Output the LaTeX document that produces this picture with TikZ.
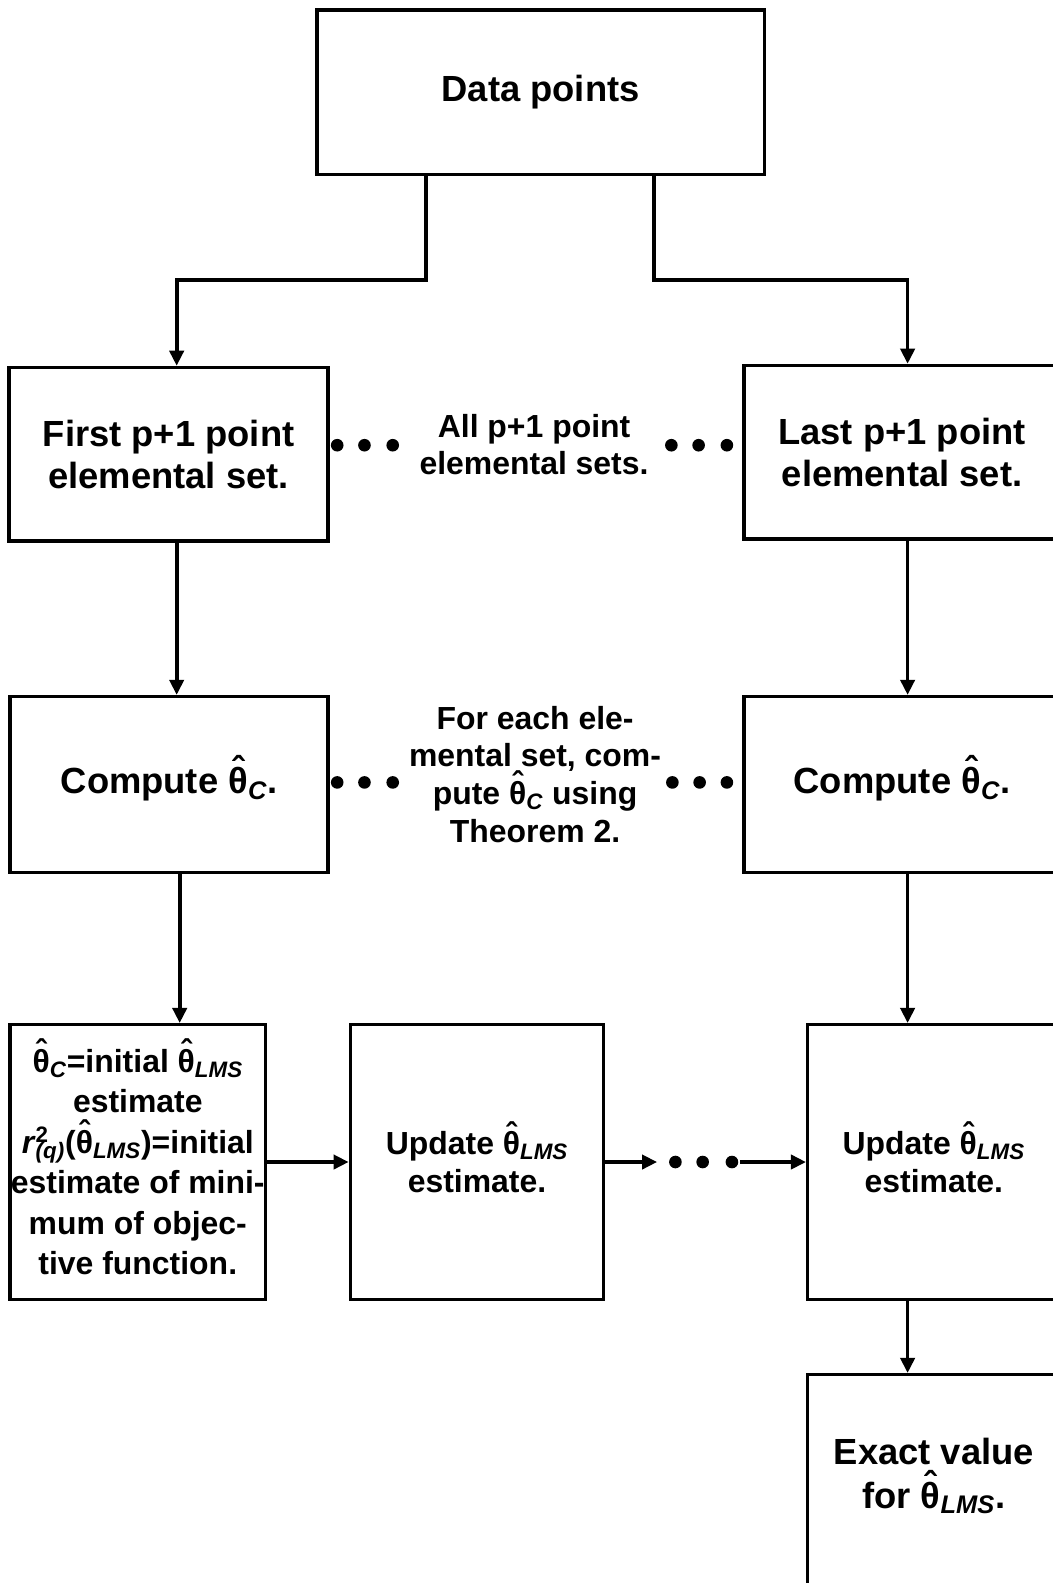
\documentclass[tikz,border=0pt]{standalone}
\usepackage{fontspec}
\setmainfont{Liberation Sans}
\usetikzlibrary{arrows.meta}
\newcommand{\hth}{\ooalign{θ\cr\hidewidth\raisebox{0.3em}{ˆ}\hidewidth\cr}}
\newcommand{\sbs}[1]{\textsubscript{\itshape #1}}
\tikzset{
  flowbox/.style={draw, line width=1.9pt, inner sep=0pt, align=center},
  bigtxt/.style={font=\bfseries\fontsize{20.5}{24}\selectfont},
  smalltxt/.style={font=\bfseries\fontsize{18}{21}\selectfont},
  flowdot/.style={circle, fill, inner sep=0pt, minimum size=0.25cm},
}
\begin{document}
\begin{tikzpicture}[x=0.02cm, y=-0.02cm, line width=2.1pt, >={Triangle[length=0.3cm,width=0.28cm]}]
        \useasboundingbox (0,0) rectangle (1043,1568);
        \clip (0,0) rectangle (1043,1568);
        \node[flowbox, bigtxt, minimum width=8.86cm, minimum height=3.26cm] (data) at (535.5,91.5) {Data points};
        \node[flowbox, bigtxt, minimum width=6.32cm, minimum height=3.44cm] (first) at (167,450) {First p+1 point\\elemental set.};
        \node[flowbox, bigtxt, minimum width=6.26cm, minimum height=3.44cm] (last) at (893.5,448) {Last p+1 point\\elemental set.};
        \node[smalltxt, align=center] (allsets) at (529,440) {All p+1 point\\elemental sets.};
        \node[flowbox, bigtxt, minimum width=6.3cm, minimum height=3.48cm] (compL) at (167.5,777) {Compute \hth\sbs{C}.};
        \node[flowbox, bigtxt, minimum width=6.26cm, minimum height=3.48cm] (compR) at (893.5,777) {Compute \hth\sbs{C}.};
        \node[align=center, font=\bfseries\fontsize{18}{21.2}\selectfont] (eachset) at (530,767) {For each ele-\\mental set, com-\\pute \hth\sbs{C} using\\Theorem 2.};
        \node[flowbox, font=\bfseries\fontsize{18}{22.8}\selectfont, minimum width=5.06cm, minimum height=5.44cm] (initL) at (136.5,1151) {\hth\sbs{C}=initial \hth\sbs{LMS}\\estimate\\\textit{r}\rlap{\textsuperscript{2}}\textsubscript{\itshape (q)}(\hth\sbs{LMS})=initial\\estimate of mini-\\mum of objec-\\tive function.};
        \node[flowbox, smalltxt, minimum width=5.02cm, minimum height=5.44cm] (updM) at (472.5,1151) {Update \hth\sbs{LMS}\\estimate.};
        \node[flowbox, smalltxt, minimum width=5cm, minimum height=5.44cm] (updR) at (925,1151) {Update \hth\sbs{LMS}\\estimate.};
        \node[flowbox, minimum width=5cm, minimum height=4.6cm, anchor=north] (exact) at (925,1360) {};
        \node[bigtxt, align=center, font=\bfseries\fontsize{20.5}{25}\selectfont] (exacttxt) at (925,1462) {Exact value\\for \hth\sbs{LMS}.};
        \node[flowdot] (da1) at (334,441) {};
        \node[flowdot] (da2) at (361,441) {};
        \node[flowdot] (da3) at (389,441) {};
        \node[flowdot] (db1) at (665,441) {};
        \node[flowdot] (db2) at (692,441) {};
        \node[flowdot] (db3) at (720,441) {};
        \node[flowdot] (dc1) at (334,775) {};
        \node[flowdot] (dc2) at (361,775) {};
        \node[flowdot] (dc3) at (389,775) {};
        \node[flowdot] (dd1) at (666,775) {};
        \node[flowdot] (dd2) at (693,775) {};
        \node[flowdot] (dd3) at (720,775) {};
        \node[flowdot] (de1) at (669,1151) {};
        \node[flowdot] (de2) at (696,1151) {};
        \node[flowdot] (de3) at (725,1151) {};
        \coordinate (dropL) at (422,277);
        \coordinate (dropR) at (648,277);
        \coordinate (bendL) at (175,277);
        \coordinate (bendR) at (899,277);
        \coordinate (colL) at (178,940);
        \draw[->] (data.south -| dropL) -- (dropL) -- (bendL) -- (first.north -| bendL);
        \draw[->] (data.south -| dropR) -- (dropR) -- (bendR) -- (last.north -| bendR);
        \draw[->] (first.south -| bendL) -- (compL.north -| bendL);
        \draw[->] (last.south -| bendR) -- (compR.north -| bendR);
        \draw[->] (compL.south -| colL) -- (initL.north -| colL);
        \draw[->] (compR.south -| bendR) -- (updR.north -| bendR);
        \draw[->] (updR.south -| bendR) -- (exact.north -| bendR);
        \draw[->] (initL.east) -- (updM.west);
        \draw[->, shorten >=0.2cm] (updM.east) -- (de1.west);
        \draw[->] (de3.east) -- (updR.west);
      \end{tikzpicture}
\end{document}
